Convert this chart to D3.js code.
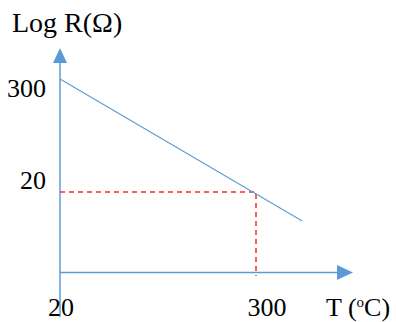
<!DOCTYPE html>
<html>
<head>
<meta charset="utf-8">
<script src="https://cdn.jsdelivr.net/npm/d3@7"></script>
<style>
  body { margin: 0; background: #fff; }
  text { font-family: "Liberation Serif", "Times New Roman", serif; fill: #000; }
</style>
</head>
<body>
<svg id="chart" width="396" height="322"></svg>
<script>
// data
var lineT = [20, 366];          // T (oC) at the two ends of the line
var lineR = [300, -52];         // Log R at the two ends
var markT = 300, markR = 20;    // the dashed read-off point
var xTicks = [20, 300];
var yTicks = [300, 20];

var svg = d3.select('#chart')
var blue = '#5b9bd5'

var x = d3.scaleLinear().domain([20, 300]).range([60, 256])
var y = d3.scaleLinear().domain([20, 300]).range([192, 79])

// y axis
svg.append('line')
    .attr('x1', 60).attr('y1', 317).attr('x2', 60).attr('y2', 55)
    .attr('stroke', blue).attr('stroke-width', 1.5)
svg.append('path').attr('d', 'M60,48 L53,63 L67,63 Z').attr('fill', blue)

// x axis
svg.append('line')
    .attr('x1', 60).attr('y1', 272.5).attr('x2', 340).attr('y2', 272.5)
    .attr('stroke', blue).attr('stroke-width', 1.5)
svg.append('path').attr('d', 'M353,272.5 L337,265 L337,280 Z').attr('fill', blue)

// dashed read-off lines
svg.append('path')
    .attr('d', 'M' + x(20) + ',' + y(markR) + ' H' + x(markT) + ' V276')
    .attr('fill', 'none').attr('stroke', '#ff2a2a').attr('stroke-width', 1.5)
    .attr('stroke-dasharray', '5,4')

// the line
var ln = d3.line().x(function(d) { return x(d[0]) }).y(function(d) { return y(d[1]) })
svg.append('path')
    .datum(d3.zip(lineT, lineR))
    .attr('d', ln)
    .attr('fill', 'none').attr('stroke', blue).attr('stroke-width', 1.1)

// labels
svg.append('text').attr('x', 12).attr('y', 32).style('font-size', '28px').text('Log R(\u03A9)')

svg.selectAll('.ytick').data(yTicks).enter().append('text')
    .attr('class', 'ytick')
    .attr('x', 46).attr('y', function(d) { return d == 300 ? 97 : 189 })
    .attr('text-anchor', 'end').style('font-size', '26px')
    .text(function(d) { return d })

svg.selectAll('.xtick').data(xTicks).enter().append('text')
    .attr('class', 'xtick')
    .attr('x', function(d) { return x(d) + (d == 20 ? 1 : 11) }).attr('y', 316)
    .attr('text-anchor', 'middle').style('font-size', '26px')
    .text(function(d) { return d })

var tl = svg.append('text').attr('x', 326).attr('y', 316).style('font-size', '26px')
tl.append('tspan').text('T (')
tl.append('tspan').attr('dy', -9).style('font-size', '15px').text('o')
tl.append('tspan').attr('dy', 9).text('C)')
</script>
</body>
</html>
